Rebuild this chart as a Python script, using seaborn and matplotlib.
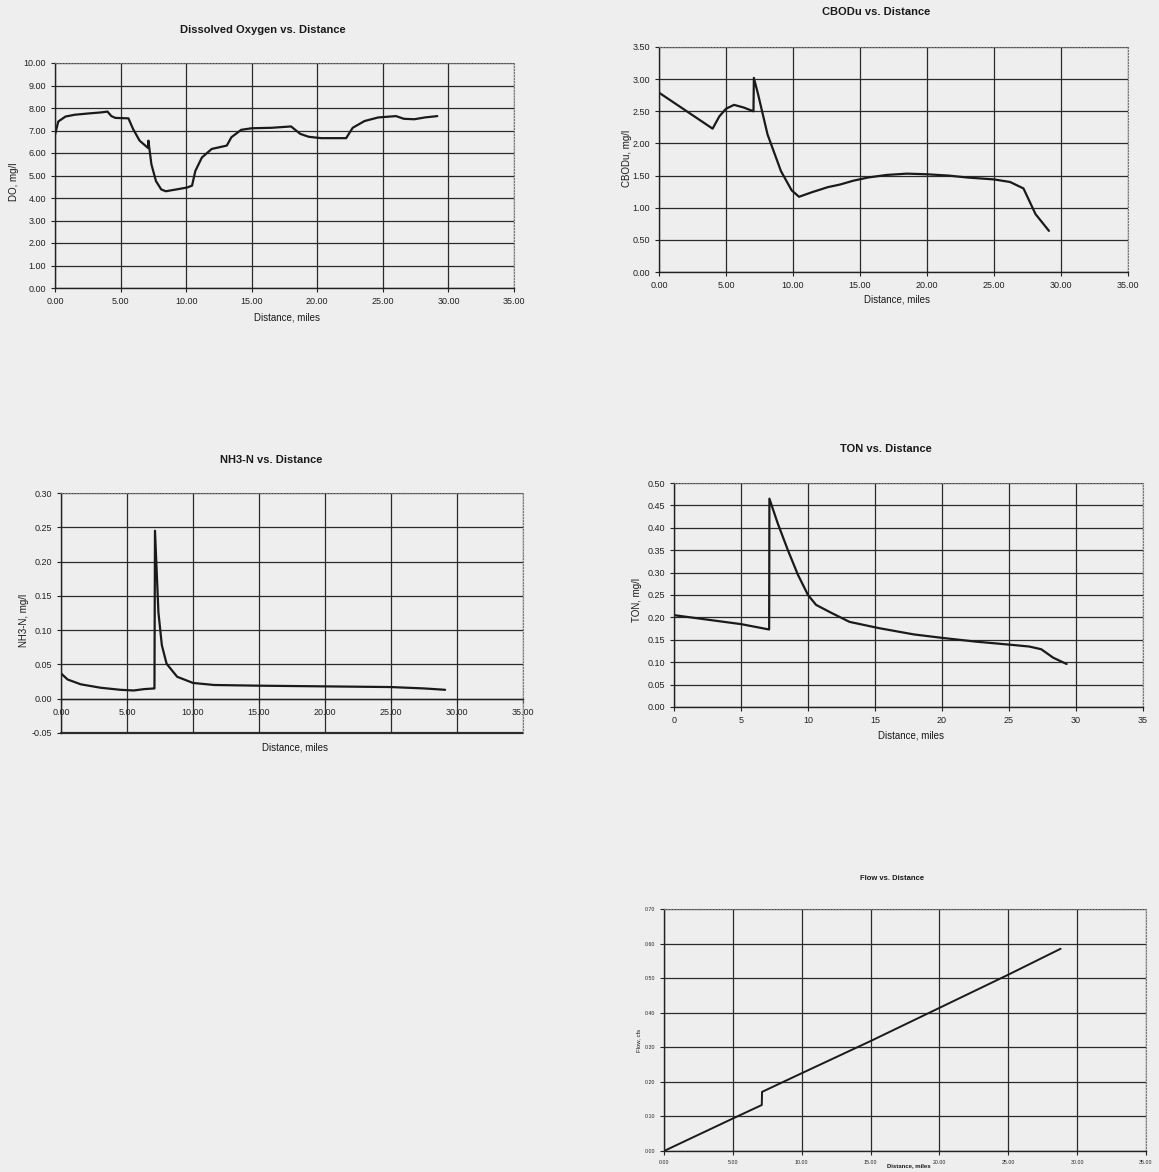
import numpy as np
import pandas as pd
import matplotlib
matplotlib.use("Agg")
import matplotlib.pyplot as plt
from matplotlib.ticker import FormatStrFormatter, MultipleLocator
import seaborn as sns

# Dissolved oxygen profile
do_miles = [0.0, 0.25, 0.8, 1.5, 2.6, 3.45, 4.0, 4.3, 4.6, 5.6, 5.95, 6.45, 7.1, 7.12,
            7.35, 7.7, 8.1, 8.45, 9.45, 10.1, 10.45, 10.7, 11.2, 11.95, 13.1, 13.45,
            14.2, 15.0, 16.5, 18.0, 18.7, 19.35, 20.3, 22.2, 22.7, 23.6, 24.65, 26.0,
            26.6, 27.4, 28.2, 29.15]
do_vals = [6.81, 7.40, 7.62, 7.70, 7.76, 7.80, 7.84, 7.64, 7.56, 7.54, 7.07, 6.55, 6.22,
           6.55, 5.50, 4.75, 4.38, 4.30, 4.40, 4.47, 4.55, 5.20, 5.80, 6.18, 6.33, 6.70,
           7.03, 7.10, 7.12, 7.18, 6.85, 6.72, 6.66, 6.66, 7.12, 7.42, 7.58, 7.64,
           7.52, 7.50, 7.58, 7.64]

# CBODu profile
cbod_miles = [0.0, 1.0, 2.0, 3.0, 4.0, 4.5, 5.0, 5.6, 6.3, 7.05, 7.08, 7.4, 8.1, 9.1,
              9.9, 10.45, 11.4, 12.6, 13.5, 14.5, 15.6, 17.0, 18.5, 20.0, 21.6, 23.0,
              25.0, 26.2, 27.2, 28.1, 29.1]
cbod_vals = [2.79, 2.65, 2.51, 2.37, 2.23, 2.42, 2.54, 2.60, 2.56, 2.50, 3.02, 2.76, 2.14,
             1.57, 1.27, 1.17, 1.24, 1.32, 1.36, 1.42, 1.47, 1.51, 1.53, 1.52, 1.50,
             1.47, 1.44, 1.40, 1.30, 0.90, 0.64]

# Ammonia profile
nh3_miles = [0.0, 0.5, 1.5, 3.0, 4.5, 5.5, 6.3, 7.08, 7.12, 7.38, 7.64, 8.0, 8.8, 10.0,
             11.6, 15.0, 20.0, 25.0, 27.5, 29.1]
nh3_vals = [0.037, 0.028, 0.021, 0.016, 0.013, 0.012, 0.014, 0.015, 0.245, 0.126, 0.078,
            0.051, 0.032, 0.023, 0.020, 0.019, 0.018, 0.017, 0.015, 0.013]

# Total organic nitrogen profile
ton_miles = [0.0, 5.0, 7.1, 7.12, 7.74, 8.5, 9.25, 10.0, 10.6, 11.75, 13.1, 15.3, 17.9,
             20.1, 22.5, 25.1, 26.5, 27.4, 28.3, 29.3]
ton_vals = [0.205, 0.185, 0.173, 0.465, 0.41, 0.35, 0.295, 0.25, 0.228, 0.21, 0.190,
            0.176, 0.162, 0.154, 0.146, 0.139, 0.135, 0.129, 0.110, 0.096]

# Flow profile
flow_miles = [0.0, 5.0, 7.1, 7.12, 10.0, 15.0, 20.0, 25.0, 28.8]
flow_vals = [0.0, 0.094, 0.133, 0.171, 0.225, 0.318, 0.414, 0.510, 0.585]

BG = "#eeeeee"

sns.set_style("white")
plt.rcParams['font.family'] = ['Liberation Sans', 'DejaVu Sans']

fig = plt.figure(figsize=(11.59, 11.72), dpi=100, facecolor=BG)


def panel(rect, x, y, title, ylabel, ylim, ystep, xstep, xfmt, yfmt,
          fs=6.5, tfs=8.0, lw=1.6, zero_axis=False, title_xy=None, xlab_xy=None,
          ylab_xy=None):
    ax = fig.add_axes(rect)
    ax.set_facecolor(BG)
    df = pd.DataFrame({"miles": x, "val": y})
    sns.lineplot(data=df, x="miles", y="val", ax=ax, color="#1a1a1a", lw=lw,
                 estimator=None, sort=False)
    ax.set_xlim(0, 35)
    ax.set_ylim(*ylim)
    ax.xaxis.set_major_locator(MultipleLocator(xstep))
    ax.yaxis.set_major_locator(MultipleLocator(ystep))
    ax.xaxis.set_major_formatter(FormatStrFormatter(xfmt))
    ax.yaxis.set_major_formatter(FormatStrFormatter(yfmt))
    ax.grid(True, color="#2b2b2b", lw=0.9)
    ax.tick_params(labelsize=fs, length=3, width=0.8, direction="out",
                   bottom=True, left=True, colors="#222222")
    for s in ["top", "right"]:
        ax.spines[s].set_color("#777777")
        ax.spines[s].set_linestyle(":")
        ax.spines[s].set_linewidth(0.8)
    for s in ["left", "bottom"]:
        ax.spines[s].set_color("#222222")
        ax.spines[s].set_linewidth(1.0)
    if zero_axis:
        # category axis crosses at zero, plot area still closed at the bottom
        ax.spines["bottom"].set_position(("data", 0))
        ax.axhline(ylim[0], color="#2b2b2b", lw=1.6, clip_on=False)
    ax.set_xlabel("")
    ax.set_ylabel("")
    fig.text(title_xy[0] / 1159, 1 - title_xy[1] / 1172, title, ha="center",
             va="center", fontsize=tfs, fontweight="bold", color="#1a1a1a")
    fig.text(xlab_xy[0] / 1159, 1 - xlab_xy[1] / 1172, "Distance, miles",
             ha="center", va="center", fontsize=fs + 0.5, color="#1a1a1a",
             fontweight="bold" if fs < 5 else "normal")
    fig.text(ylab_xy[0] / 1159, 1 - ylab_xy[1] / 1172, ylabel, ha="center",
             va="center", rotation=90, fontsize=fs + 0.5, color="#1a1a1a")
    return ax


panel([55 / 1159, 1 - 288 / 1172, 459 / 1159, 225 / 1172], do_miles, do_vals,
      "Dissolved Oxygen vs. Distance", "DO, mg/l", (0, 10), 1.0, 5, "%.2f", "%.2f",
      title_xy=(263, 30), xlab_xy=(287, 317), ylab_xy=(14, 182))

panel([659 / 1159, 1 - 272 / 1172, 469 / 1159, 225 / 1172], cbod_miles, cbod_vals,
      "CBODu vs. Distance", "CBODu, mg/l", (0, 3.5), 0.5, 5, "%.2f", "%.2f",
      title_xy=(876, 12), xlab_xy=(897, 300), ylab_xy=(627, 158))

panel([61 / 1159, 1 - 733 / 1172, 462 / 1159, 240 / 1172], nh3_miles, nh3_vals,
      "NH3-N vs. Distance", "NH3-N, mg/l", (-0.05, 0.30), 0.05, 5, "%.2f", "%.2f",
      zero_axis=True, title_xy=(271, 460), xlab_xy=(295, 748), ylab_xy=(24, 620))

panel([674 / 1159, 1 - 707 / 1172, 469 / 1159, 224 / 1172], ton_miles, ton_vals,
      "TON vs. Distance", "TON, mg/l", (0, 0.5), 0.05, 5, "%d", "%.2f",
      title_xy=(886, 449), xlab_xy=(911, 735), ylab_xy=(637, 600))

panel([664 / 1159, 1 - 1151 / 1172, 482 / 1159, 242 / 1172], flow_miles, flow_vals,
      "Flow vs. Distance", "Flow, cfs", (0, 0.7), 0.1, 5, "%.2f", "%.2f",
      fs=3.8, tfs=5.5, lw=1.4, title_xy=(892, 879), xlab_xy=(909, 1166),
      ylab_xy=(639, 1040))

fig.savefig("out.png", dpi=100, facecolor=BG)
